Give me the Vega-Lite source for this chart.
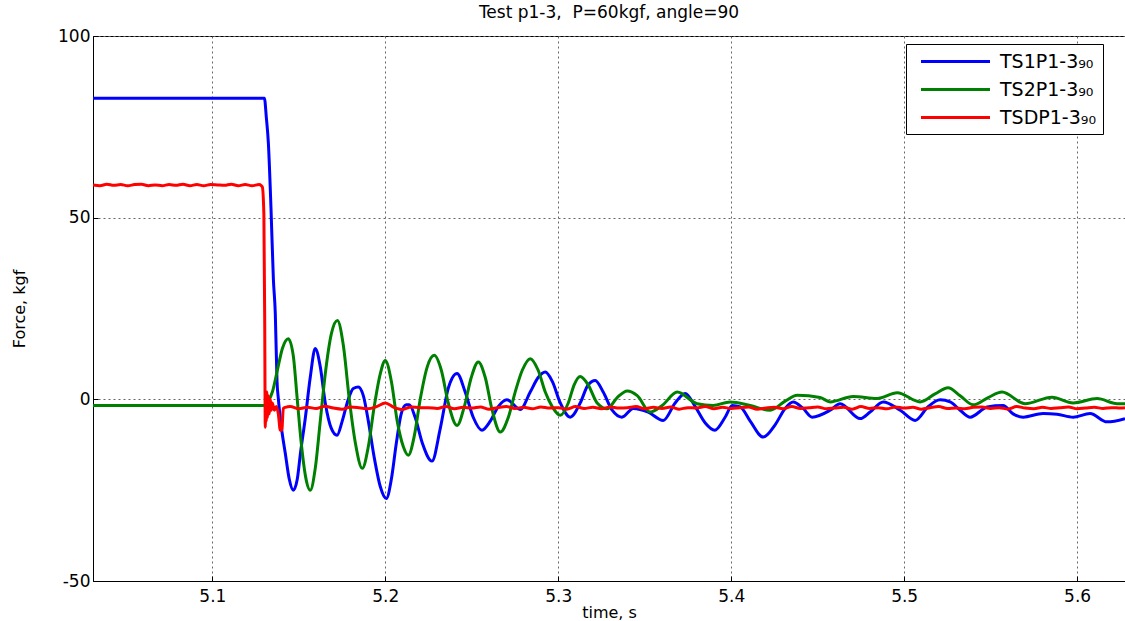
{
  "$schema": "https://vega.github.io/schema/vega-lite/v6.json",
  "width": 1032,
  "height": 545,
  "autosize": {"type": "none"},
  "padding": {"left": 93, "top": 36, "right": 0, "bottom": 40},
  "background": "white",
  "title": {"text": "Test p1-3,\u00a0 P=60kgf, angle=90", "font": "DejaVu Sans", "fontSize": 17, "fontWeight": "normal", "color": "black", "offset": 5},
  "config": {
    "view": {"stroke": "black", "strokeWidth": 1},
    "axis": {"domainColor": "black", "tickColor": "black", "labelColor": "black", "titleColor": "black", "labelFont": "DejaVu Sans", "titleFont": "DejaVu Sans", "labelFontSize": 17, "titleFontSize": 16, "titleFontWeight": "normal", "grid": true, "gridColor": "#666666", "gridDash": [2, 3], "gridWidth": 1, "tickSize": -5, "labelPadding": 9}
  },
  "datasets": {
    "d": [
      {"t": 5.031, "s": "TS1P1-3₉₀", "v": 82.9}, {"t": 5.1301, "s": "TS1P1-3₉₀", "v": 82.9}, {"t": 5.1312, "s": "TS1P1-3₉₀", "v": 77.7}, {"t": 5.1324, "s": "TS1P1-3₉₀", "v": 70.5}, {"t": 5.1339, "s": "TS1P1-3₉₀", "v": 52.8}, {"t": 5.1353, "s": "TS1P1-3₉₀", "v": 33}, {"t": 5.1364, "s": "TS1P1-3₉₀", "v": 23.7}, {"t": 5.1374, "s": "TS1P1-3₉₀", "v": 5}, {"t": 5.1382, "s": "TS1P1-3₉₀", "v": 0}, {"t": 5.1399, "s": "TS1P1-3₉₀", "v": -7.6}, {"t": 5.1422, "s": "TS1P1-3₉₀", "v": -14.9}, {"t": 5.1445, "s": "TS1P1-3₉₀", "v": -22}, {"t": 5.1468, "s": "TS1P1-3₉₀", "v": -25}, {"t": 5.1491, "s": "TS1P1-3₉₀", "v": -22}, {"t": 5.1509, "s": "TS1P1-3₉₀", "v": -15}, {"t": 5.1538, "s": "TS1P1-3₉₀", "v": -5}, {"t": 5.1566, "s": "TS1P1-3₉₀", "v": 6}, {"t": 5.1595, "s": "TS1P1-3₉₀", "v": 14}, {"t": 5.1624, "s": "TS1P1-3₉₀", "v": 9}, {"t": 5.1653, "s": "TS1P1-3₉₀", "v": -1}, {"t": 5.1688, "s": "TS1P1-3₉₀", "v": -8}, {"t": 5.1721, "s": "TS1P1-3₉₀", "v": -9.9}, {"t": 5.1751, "s": "TS1P1-3₉₀", "v": -6}, {"t": 5.1786, "s": "TS1P1-3₉₀", "v": 0}, {"t": 5.1815, "s": "TS1P1-3₉₀", "v": 3}, {"t": 5.1844, "s": "TS1P1-3₉₀", "v": 3.4}, {"t": 5.1873, "s": "TS1P1-3₉₀", "v": 1}, {"t": 5.1902, "s": "TS1P1-3₉₀", "v": -6}, {"t": 5.1936, "s": "TS1P1-3₉₀", "v": -16}, {"t": 5.1971, "s": "TS1P1-3₉₀", "v": -24}, {"t": 5.2006, "s": "TS1P1-3₉₀", "v": -27.3}, {"t": 5.2035, "s": "TS1P1-3₉₀", "v": -22}, {"t": 5.2064, "s": "TS1P1-3₉₀", "v": -12}, {"t": 5.2092, "s": "TS1P1-3₉₀", "v": -4}, {"t": 5.2121, "s": "TS1P1-3₉₀", "v": -1.5}, {"t": 5.2139, "s": "TS1P1-3₉₀", "v": -1.5}, {"t": 5.2173, "s": "TS1P1-3₉₀", "v": -5}, {"t": 5.2214, "s": "TS1P1-3₉₀", "v": -12}, {"t": 5.227, "s": "TS1P1-3₉₀", "v": -17}, {"t": 5.2318, "s": "TS1P1-3₉₀", "v": -8}, {"t": 5.2364, "s": "TS1P1-3₉₀", "v": 3}, {"t": 5.2415, "s": "TS1P1-3₉₀", "v": 7.1}, {"t": 5.2462, "s": "TS1P1-3₉₀", "v": 2}, {"t": 5.2509, "s": "TS1P1-3₉₀", "v": -5}, {"t": 5.2559, "s": "TS1P1-3₉₀", "v": -8.5}, {"t": 5.2607, "s": "TS1P1-3₉₀", "v": -6}, {"t": 5.2653, "s": "TS1P1-3₉₀", "v": -2}, {"t": 5.2703, "s": "TS1P1-3₉₀", "v": -0.1}, {"t": 5.278, "s": "TS1P1-3₉₀", "v": -2.8}, {"t": 5.2838, "s": "TS1P1-3₉₀", "v": 2}, {"t": 5.2884, "s": "TS1P1-3₉₀", "v": 6}, {"t": 5.2925, "s": "TS1P1-3₉₀", "v": 7.5}, {"t": 5.2965, "s": "TS1P1-3₉₀", "v": 5}, {"t": 5.3012, "s": "TS1P1-3₉₀", "v": -1}, {"t": 5.3069, "s": "TS1P1-3₉₀", "v": -4.9}, {"t": 5.3127, "s": "TS1P1-3₉₀", "v": -1}, {"t": 5.3173, "s": "TS1P1-3₉₀", "v": 4}, {"t": 5.3214, "s": "TS1P1-3₉₀", "v": 5.2}, {"t": 5.326, "s": "TS1P1-3₉₀", "v": 2}, {"t": 5.3312, "s": "TS1P1-3₉₀", "v": -3}, {"t": 5.3368, "s": "TS1P1-3₉₀", "v": -4.9}, {"t": 5.3434, "s": "TS1P1-3₉₀", "v": -2.5}, {"t": 5.352, "s": "TS1P1-3₉₀", "v": -3.5}, {"t": 5.3607, "s": "TS1P1-3₉₀", "v": -5.8}, {"t": 5.3676, "s": "TS1P1-3₉₀", "v": -1}, {"t": 5.3734, "s": "TS1P1-3₉₀", "v": 1.6}, {"t": 5.3792, "s": "TS1P1-3₉₀", "v": -2}, {"t": 5.385, "s": "TS1P1-3₉₀", "v": -6.5}, {"t": 5.3905, "s": "TS1P1-3₉₀", "v": -8.5}, {"t": 5.3964, "s": "TS1P1-3₉₀", "v": -5}, {"t": 5.4006, "s": "TS1P1-3₉₀", "v": -1.7}, {"t": 5.4052, "s": "TS1P1-3₉₀", "v": -2.1}, {"t": 5.411, "s": "TS1P1-3₉₀", "v": -6}, {"t": 5.4185, "s": "TS1P1-3₉₀", "v": -10.4}, {"t": 5.4254, "s": "TS1P1-3₉₀", "v": -7}, {"t": 5.4312, "s": "TS1P1-3₉₀", "v": -2.5}, {"t": 5.4358, "s": "TS1P1-3₉₀", "v": -0.7}, {"t": 5.4416, "s": "TS1P1-3₉₀", "v": -2.5}, {"t": 5.4468, "s": "TS1P1-3₉₀", "v": -4.9}, {"t": 5.4572, "s": "TS1P1-3₉₀", "v": -3}, {"t": 5.463, "s": "TS1P1-3₉₀", "v": -1.2}, {"t": 5.4746, "s": "TS1P1-3₉₀", "v": -5.3}, {"t": 5.4803, "s": "TS1P1-3₉₀", "v": -3.5}, {"t": 5.4879, "s": "TS1P1-3₉₀", "v": -0.7}, {"t": 5.4977, "s": "TS1P1-3₉₀", "v": -3}, {"t": 5.5064, "s": "TS1P1-3₉₀", "v": -5.8}, {"t": 5.5139, "s": "TS1P1-3₉₀", "v": -2}, {"t": 5.5208, "s": "TS1P1-3₉₀", "v": -0.1}, {"t": 5.5266, "s": "TS1P1-3₉₀", "v": -0.7}, {"t": 5.5324, "s": "TS1P1-3₉₀", "v": -3}, {"t": 5.5382, "s": "TS1P1-3₉₀", "v": -4.9}, {"t": 5.548, "s": "TS1P1-3₉₀", "v": -2.1}, {"t": 5.5572, "s": "TS1P1-3₉₀", "v": -1.7}, {"t": 5.563, "s": "TS1P1-3₉₀", "v": -4}, {"t": 5.5688, "s": "TS1P1-3₉₀", "v": -4.9}, {"t": 5.5803, "s": "TS1P1-3₉₀", "v": -3.9}, {"t": 5.5884, "s": "TS1P1-3₉₀", "v": -4.1}, {"t": 5.5977, "s": "TS1P1-3₉₀", "v": -4.9}, {"t": 5.6075, "s": "TS1P1-3₉₀", "v": -3.9}, {"t": 5.6173, "s": "TS1P1-3₉₀", "v": -6.2}, {"t": 5.6277, "s": "TS1P1-3₉₀", "v": -5.3},

      {"t": 5.031, "s": "TS2P1-3₉₀", "v": -1.7}, {"t": 5.1301, "s": "TS2P1-3₉₀", "v": -1.7}, {"t": 5.1324, "s": "TS2P1-3₉₀", "v": -0.5}, {"t": 5.1347, "s": "TS2P1-3₉₀", "v": 2}, {"t": 5.1376, "s": "TS2P1-3₉₀", "v": 8}, {"t": 5.1405, "s": "TS2P1-3₉₀", "v": 14}, {"t": 5.1439, "s": "TS2P1-3₉₀", "v": 16.7}, {"t": 5.1468, "s": "TS2P1-3₉₀", "v": 12}, {"t": 5.1491, "s": "TS2P1-3₉₀", "v": 0}, {"t": 5.1514, "s": "TS2P1-3₉₀", "v": -12}, {"t": 5.1538, "s": "TS2P1-3₉₀", "v": -21}, {"t": 5.1566, "s": "TS2P1-3₉₀", "v": -25}, {"t": 5.1595, "s": "TS2P1-3₉₀", "v": -19}, {"t": 5.1624, "s": "TS2P1-3₉₀", "v": -6}, {"t": 5.1653, "s": "TS2P1-3₉₀", "v": 7}, {"t": 5.1688, "s": "TS2P1-3₉₀", "v": 18}, {"t": 5.1723, "s": "TS2P1-3₉₀", "v": 21.7}, {"t": 5.1757, "s": "TS2P1-3₉₀", "v": 15}, {"t": 5.1792, "s": "TS2P1-3₉₀", "v": 0}, {"t": 5.1827, "s": "TS2P1-3₉₀", "v": -12}, {"t": 5.1867, "s": "TS2P1-3₉₀", "v": -19}, {"t": 5.1902, "s": "TS2P1-3₉₀", "v": -13}, {"t": 5.1936, "s": "TS2P1-3₉₀", "v": -2}, {"t": 5.1971, "s": "TS2P1-3₉₀", "v": 7}, {"t": 5.2, "s": "TS2P1-3₉₀", "v": 10.7}, {"t": 5.2035, "s": "TS2P1-3₉₀", "v": 5}, {"t": 5.2069, "s": "TS2P1-3₉₀", "v": -6}, {"t": 5.2104, "s": "TS2P1-3₉₀", "v": -13}, {"t": 5.2133, "s": "TS2P1-3₉₀", "v": -15.4}, {"t": 5.2168, "s": "TS2P1-3₉₀", "v": -10}, {"t": 5.2202, "s": "TS2P1-3₉₀", "v": 0}, {"t": 5.2243, "s": "TS2P1-3₉₀", "v": 9}, {"t": 5.2283, "s": "TS2P1-3₉₀", "v": 12.1}, {"t": 5.2324, "s": "TS2P1-3₉₀", "v": 8}, {"t": 5.2364, "s": "TS2P1-3₉₀", "v": -1}, {"t": 5.2415, "s": "TS2P1-3₉₀", "v": -7.2}, {"t": 5.2457, "s": "TS2P1-3₉₀", "v": -2}, {"t": 5.2497, "s": "TS2P1-3₉₀", "v": 6}, {"t": 5.2538, "s": "TS2P1-3₉₀", "v": 10.3}, {"t": 5.2578, "s": "TS2P1-3₉₀", "v": 6}, {"t": 5.2618, "s": "TS2P1-3₉₀", "v": -3}, {"t": 5.2665, "s": "TS2P1-3₉₀", "v": -9}, {"t": 5.2711, "s": "TS2P1-3₉₀", "v": -5}, {"t": 5.2751, "s": "TS2P1-3₉₀", "v": 2}, {"t": 5.2792, "s": "TS2P1-3₉₀", "v": 8}, {"t": 5.2838, "s": "TS2P1-3₉₀", "v": 11.2}, {"t": 5.2884, "s": "TS2P1-3₉₀", "v": 8}, {"t": 5.2925, "s": "TS2P1-3₉₀", "v": 2}, {"t": 5.2965, "s": "TS2P1-3₉₀", "v": -2}, {"t": 5.3012, "s": "TS2P1-3₉₀", "v": -4.4}, {"t": 5.3058, "s": "TS2P1-3₉₀", "v": -1}, {"t": 5.3092, "s": "TS2P1-3₉₀", "v": 4}, {"t": 5.3127, "s": "TS2P1-3₉₀", "v": 6.3}, {"t": 5.3173, "s": "TS2P1-3₉₀", "v": 4}, {"t": 5.3225, "s": "TS2P1-3₉₀", "v": -1}, {"t": 5.3283, "s": "TS2P1-3₉₀", "v": -2.6}, {"t": 5.3341, "s": "TS2P1-3₉₀", "v": 0.5}, {"t": 5.3399, "s": "TS2P1-3₉₀", "v": 2.3}, {"t": 5.3457, "s": "TS2P1-3₉₀", "v": 1}, {"t": 5.3532, "s": "TS2P1-3₉₀", "v": -3.5}, {"t": 5.3601, "s": "TS2P1-3₉₀", "v": -1.7}, {"t": 5.3688, "s": "TS2P1-3₉₀", "v": 2}, {"t": 5.3803, "s": "TS2P1-3₉₀", "v": -1.2}, {"t": 5.3896, "s": "TS2P1-3₉₀", "v": -1.7}, {"t": 5.3994, "s": "TS2P1-3₉₀", "v": -0.7}, {"t": 5.411, "s": "TS2P1-3₉₀", "v": -1.7}, {"t": 5.4225, "s": "TS2P1-3₉₀", "v": -3}, {"t": 5.4312, "s": "TS2P1-3₉₀", "v": -0.5}, {"t": 5.4382, "s": "TS2P1-3₉₀", "v": 1.1}, {"t": 5.4514, "s": "TS2P1-3₉₀", "v": 0.5}, {"t": 5.4572, "s": "TS2P1-3₉₀", "v": -0.7}, {"t": 5.4705, "s": "TS2P1-3₉₀", "v": 0.8}, {"t": 5.4844, "s": "TS2P1-3₉₀", "v": 0.2}, {"t": 5.496, "s": "TS2P1-3₉₀", "v": 1.8}, {"t": 5.5092, "s": "TS2P1-3₉₀", "v": -0.7}, {"t": 5.5179, "s": "TS2P1-3₉₀", "v": 1.5}, {"t": 5.5254, "s": "TS2P1-3₉₀", "v": 3.2}, {"t": 5.5324, "s": "TS2P1-3₉₀", "v": 1}, {"t": 5.5399, "s": "TS2P1-3₉₀", "v": -1.5}, {"t": 5.5486, "s": "TS2P1-3₉₀", "v": 0.5}, {"t": 5.5566, "s": "TS2P1-3₉₀", "v": 2}, {"t": 5.5699, "s": "TS2P1-3₉₀", "v": -1.2}, {"t": 5.5855, "s": "TS2P1-3₉₀", "v": 0.6}, {"t": 5.5977, "s": "TS2P1-3₉₀", "v": -1}, {"t": 5.6116, "s": "TS2P1-3₉₀", "v": 0.2}, {"t": 5.6231, "s": "TS2P1-3₉₀", "v": -1.2}, {"t": 5.6277, "s": "TS2P1-3₉₀", "v": -1.2},

      {"t": 5.031, "s": "TSDP1-3₉₀", "v": 59.0}, {"t": 5.035, "s": "TSDP1-3₉₀", "v": 58.8}, {"t": 5.039, "s": "TSDP1-3₉₀", "v": 59.2}, {"t": 5.043, "s": "TSDP1-3₉₀", "v": 58.9}, {"t": 5.047, "s": "TSDP1-3₉₀", "v": 59.1}, {"t": 5.051, "s": "TSDP1-3₉₀", "v": 58.8}, {"t": 5.055, "s": "TSDP1-3₉₀", "v": 59.1}, {"t": 5.059, "s": "TSDP1-3₉₀", "v": 59.2}, {"t": 5.063, "s": "TSDP1-3₉₀", "v": 58.8}, {"t": 5.067, "s": "TSDP1-3₉₀", "v": 59.0}, {"t": 5.071, "s": "TSDP1-3₉₀", "v": 58.8}, {"t": 5.075, "s": "TSDP1-3₉₀", "v": 59.1}, {"t": 5.079, "s": "TSDP1-3₉₀", "v": 58.9}, {"t": 5.083, "s": "TSDP1-3₉₀", "v": 59.2}, {"t": 5.087, "s": "TSDP1-3₉₀", "v": 58.8}, {"t": 5.091, "s": "TSDP1-3₉₀", "v": 59.1}, {"t": 5.095, "s": "TSDP1-3₉₀", "v": 58.8}, {"t": 5.099, "s": "TSDP1-3₉₀", "v": 59.1}, {"t": 5.103, "s": "TSDP1-3₉₀", "v": 59.0}, {"t": 5.107, "s": "TSDP1-3₉₀", "v": 58.9}, {"t": 5.111, "s": "TSDP1-3₉₀", "v": 59.2}, {"t": 5.115, "s": "TSDP1-3₉₀", "v": 58.8}, {"t": 5.119, "s": "TSDP1-3₉₀", "v": 59.1}, {"t": 5.123, "s": "TSDP1-3₉₀", "v": 58.8}, {"t": 5.127, "s": "TSDP1-3₉₀", "v": 59.1},
      {"t": 5.1283, "s": "TSDP1-3₉₀", "v": 58.8}, {"t": 5.1289, "s": "TSDP1-3₉₀", "v": 58.5}, {"t": 5.1298, "s": "TSDP1-3₉₀", "v": 51}, {"t": 5.1303, "s": "TSDP1-3₉₀", "v": 20}, {"t": 5.1306, "s": "TSDP1-3₉₀", "v": -7.7}, {"t": 5.13092, "s": "TSDP1-3₉₀", "v": 1}, {"t": 5.13121, "s": "TSDP1-3₉₀", "v": -6}, {"t": 5.1315, "s": "TSDP1-3₉₀", "v": 2}, {"t": 5.13179, "s": "TSDP1-3₉₀", "v": -5}, {"t": 5.13237, "s": "TSDP1-3₉₀", "v": 1}, {"t": 5.13295, "s": "TSDP1-3₉₀", "v": -4}, {"t": 5.13353, "s": "TSDP1-3₉₀", "v": 0}, {"t": 5.1341, "s": "TSDP1-3₉₀", "v": -3}, {"t": 5.13468, "s": "TSDP1-3₉₀", "v": -1}, {"t": 5.13584, "s": "TSDP1-3₉₀", "v": -3}, {"t": 5.137, "s": "TSDP1-3₉₀", "v": -2}, {"t": 5.13815, "s": "TSDP1-3₉₀", "v": -4}, {"t": 5.1393, "s": "TSDP1-3₉₀", "v": -8.5}, {"t": 5.14017, "s": "TSDP1-3₉₀", "v": -8.5}, {"t": 5.14104, "s": "TSDP1-3₉₀", "v": -2.5}, {"t": 5.1422, "s": "TSDP1-3₉₀", "v": -2.2},
      {"t": 5.145, "s": "TSDP1-3₉₀", "v": -2.0}, {"t": 5.15, "s": "TSDP1-3₉₀", "v": -2.6}, {"t": 5.155, "s": "TSDP1-3₉₀", "v": -2.2}, {"t": 5.16, "s": "TSDP1-3₉₀", "v": -2.5}, {"t": 5.165, "s": "TSDP1-3₉₀", "v": -1.9}, {"t": 5.17, "s": "TSDP1-3₉₀", "v": -2.4}, {"t": 5.175, "s": "TSDP1-3₉₀", "v": -2.7}, {"t": 5.18, "s": "TSDP1-3₉₀", "v": -2.1}, {"t": 5.185, "s": "TSDP1-3₉₀", "v": -2.3}, {"t": 5.19, "s": "TSDP1-3₉₀", "v": -2.6},
      {"t": 5.195, "s": "TSDP1-3₉₀", "v": -2.0}, {"t": 5.2, "s": "TSDP1-3₉₀", "v": -1.0}, {"t": 5.205, "s": "TSDP1-3₉₀", "v": -2.2}, {"t": 5.21, "s": "TSDP1-3₉₀", "v": -2.8}, {"t": 5.215, "s": "TSDP1-3₉₀", "v": -2.1}, {"t": 5.22, "s": "TSDP1-3₉₀", "v": -2.3}, {"t": 5.225, "s": "TSDP1-3₉₀", "v": -2.3}, {"t": 5.23, "s": "TSDP1-3₉₀", "v": -2.5}, {"t": 5.235, "s": "TSDP1-3₉₀", "v": -2.0}, {"t": 5.24, "s": "TSDP1-3₉₀", "v": -2.6},
      {"t": 5.245, "s": "TSDP1-3₉₀", "v": -2.2}, {"t": 5.25, "s": "TSDP1-3₉₀", "v": -2.4}, {"t": 5.255, "s": "TSDP1-3₉₀", "v": -2.1}, {"t": 5.26, "s": "TSDP1-3₉₀", "v": -2.7}, {"t": 5.265, "s": "TSDP1-3₉₀", "v": -2.3}, {"t": 5.27, "s": "TSDP1-3₉₀", "v": -2.0}, {"t": 5.275, "s": "TSDP1-3₉₀", "v": -2.5}, {"t": 5.28, "s": "TSDP1-3₉₀", "v": -2.2}, {"t": 5.285, "s": "TSDP1-3₉₀", "v": -2.6}, {"t": 5.29, "s": "TSDP1-3₉₀", "v": -2.1},
      {"t": 5.295, "s": "TSDP1-3₉₀", "v": -2.4}, {"t": 5.3, "s": "TSDP1-3₉₀", "v": -2.3}, {"t": 5.305, "s": "TSDP1-3₉₀", "v": -2.7}, {"t": 5.31, "s": "TSDP1-3₉₀", "v": -2.0}, {"t": 5.315, "s": "TSDP1-3₉₀", "v": -2.5}, {"t": 5.32, "s": "TSDP1-3₉₀", "v": -2.2}, {"t": 5.325, "s": "TSDP1-3₉₀", "v": -2.6}, {"t": 5.33, "s": "TSDP1-3₉₀", "v": -2.1}, {"t": 5.335, "s": "TSDP1-3₉₀", "v": -2.4}, {"t": 5.34, "s": "TSDP1-3₉₀", "v": -2.3},
      {"t": 5.345, "s": "TSDP1-3₉₀", "v": -2.0}, {"t": 5.35, "s": "TSDP1-3₉₀", "v": -2.6}, {"t": 5.355, "s": "TSDP1-3₉₀", "v": -2.2}, {"t": 5.36, "s": "TSDP1-3₉₀", "v": -2.5}, {"t": 5.365, "s": "TSDP1-3₉₀", "v": -2.1}, {"t": 5.37, "s": "TSDP1-3₉₀", "v": -2.7}, {"t": 5.375, "s": "TSDP1-3₉₀", "v": -2.3}, {"t": 5.38, "s": "TSDP1-3₉₀", "v": -2.4}, {"t": 5.385, "s": "TSDP1-3₉₀", "v": -2.0}, {"t": 5.39, "s": "TSDP1-3₉₀", "v": -2.6},
      {"t": 5.395, "s": "TSDP1-3₉₀", "v": -2.2}, {"t": 5.4, "s": "TSDP1-3₉₀", "v": -2.5}, {"t": 5.405, "s": "TSDP1-3₉₀", "v": -2.3}, {"t": 5.41, "s": "TSDP1-3₉₀", "v": -2.1}, {"t": 5.415, "s": "TSDP1-3₉₀", "v": -2.7}, {"t": 5.42, "s": "TSDP1-3₉₀", "v": -2.4}, {"t": 5.425, "s": "TSDP1-3₉₀", "v": -2.2}, {"t": 5.43, "s": "TSDP1-3₉₀", "v": -2.6}, {"t": 5.435, "s": "TSDP1-3₉₀", "v": -2.0}, {"t": 5.44, "s": "TSDP1-3₉₀", "v": -2.5},
      {"t": 5.445, "s": "TSDP1-3₉₀", "v": -2.3}, {"t": 5.45, "s": "TSDP1-3₉₀", "v": -2.1}, {"t": 5.455, "s": "TSDP1-3₉₀", "v": -2.6}, {"t": 5.46, "s": "TSDP1-3₉₀", "v": -2.4}, {"t": 5.465, "s": "TSDP1-3₉₀", "v": -2.2}, {"t": 5.47, "s": "TSDP1-3₉₀", "v": -2.7}, {"t": 5.475, "s": "TSDP1-3₉₀", "v": -2.0}, {"t": 5.48, "s": "TSDP1-3₉₀", "v": -2.5}, {"t": 5.485, "s": "TSDP1-3₉₀", "v": -2.3}, {"t": 5.49, "s": "TSDP1-3₉₀", "v": -2.6},
      {"t": 5.495, "s": "TSDP1-3₉₀", "v": -2.1}, {"t": 5.5, "s": "TSDP1-3₉₀", "v": -2.4}, {"t": 5.505, "s": "TSDP1-3₉₀", "v": -2.2}, {"t": 5.51, "s": "TSDP1-3₉₀", "v": -2.7}, {"t": 5.515, "s": "TSDP1-3₉₀", "v": -2.3}, {"t": 5.52, "s": "TSDP1-3₉₀", "v": -2.0}, {"t": 5.525, "s": "TSDP1-3₉₀", "v": -2.5}, {"t": 5.53, "s": "TSDP1-3₉₀", "v": -2.4}, {"t": 5.535, "s": "TSDP1-3₉₀", "v": -2.6}, {"t": 5.54, "s": "TSDP1-3₉₀", "v": -2.2},
      {"t": 5.545, "s": "TSDP1-3₉₀", "v": -2.1}, {"t": 5.55, "s": "TSDP1-3₉₀", "v": -2.5}, {"t": 5.555, "s": "TSDP1-3₉₀", "v": -2.3}, {"t": 5.56, "s": "TSDP1-3₉₀", "v": -2.7}, {"t": 5.565, "s": "TSDP1-3₉₀", "v": -2.0}, {"t": 5.57, "s": "TSDP1-3₉₀", "v": -2.4}, {"t": 5.575, "s": "TSDP1-3₉₀", "v": -2.6}, {"t": 5.58, "s": "TSDP1-3₉₀", "v": -2.2}, {"t": 5.585, "s": "TSDP1-3₉₀", "v": -2.5}, {"t": 5.59, "s": "TSDP1-3₉₀", "v": -2.3},
      {"t": 5.595, "s": "TSDP1-3₉₀", "v": -2.1}, {"t": 5.6, "s": "TSDP1-3₉₀", "v": -2.6}, {"t": 5.605, "s": "TSDP1-3₉₀", "v": -2.4}, {"t": 5.61, "s": "TSDP1-3₉₀", "v": -2.2}, {"t": 5.615, "s": "TSDP1-3₉₀", "v": -2.5}, {"t": 5.62, "s": "TSDP1-3₉₀", "v": -2.3}, {"t": 5.625, "s": "TSDP1-3₉₀", "v": -2.4}, {"t": 5.6277, "s": "TSDP1-3₉₀", "v": -2.3}
    ]
  },
  "data": {"name": "d"},
  "mark": {"type": "line", "strokeWidth": 3, "interpolate": "monotone", "clip": true},
  "encoding": {
    "x": {"field": "t", "type": "quantitative", "scale": {"domain": [5.031, 5.6277], "nice": false, "zero": false}, "axis": {"values": [5.1, 5.2, 5.3, 5.4, 5.5, 5.6], "format": ".1f", "title": "time, s", "labelPadding": 12, "titlePadding": 0}},
    "y": {"field": "v", "type": "quantitative", "scale": {"domain": [-50, 100], "nice": false, "zero": false}, "axis": {"values": [-50, 0, 50, 100], "labelExpr": "'' + datum.value", "title": "Force, kgf", "labelPadding": 8, "titlePadding": 30}},
    "color": {"field": "s", "type": "nominal", "scale": {"domain": ["TS1P1-3₉₀", "TS2P1-3₉₀", "TSDP1-3₉₀"], "range": ["#0000ff", "#008000", "#ff0000"]},
      "legend": {"title": null, "orient": "none", "legendX": 813, "legendY": 8, "strokeColor": "black", "fillColor": "white", "padding": 6, "symbolType": "M-0.25,0H6.65", "symbolSize": 400, "symbolStrokeWidth": 3, "labelFont": "DejaVu Sans", "labelFontSize": 19, "labelColor": "black", "labelOffset": 65, "rowPadding": 6}},
    "order": {"field": "s"}
  }
}
